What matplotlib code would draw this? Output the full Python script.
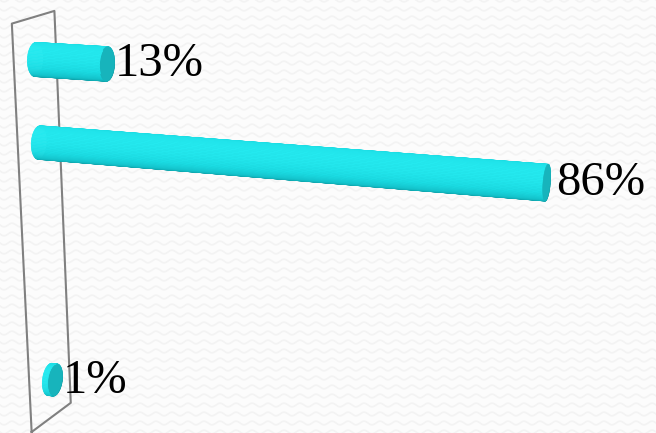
import numpy as np
import matplotlib
matplotlib.use("Agg")
import matplotlib.pyplot as plt
from matplotlib.colors import LinearSegmentedColormap
from mpl_toolkits.mplot3d.art3d import Poly3DCollection

# share of answers per category, top to bottom (empty categories are nan)
values = [13, 86, np.nan, np.nan, 1]
labels = ["13%", "86%", "", "", "1%"]

n_cat = len(values)
depth = 1.05         # wall depth, in category units
radius = 0.2         # cylinder radius, in category units
pct_per_cat = 14.0   # percent that spans one category unit
x_max = 100

fig = plt.figure(figsize=(6.56, 4.33), dpi=100)
fig.patch.set_facecolor("#fcfcfc")

# faint zigzag texture behind the chart
bg = fig.add_axes([0, 0, 1, 1])
bg.set_xlim(0, 656)
bg.set_ylim(433, 0)
bg.axis("off")
xx = np.linspace(0, 656, 1500)
for y0 in np.arange(0, 440, 9):
    bg.plot(xx, y0 + 1.8 * np.sin(2 * np.pi * xx / 16), color="#f3f3f3", lw=1.2)

ax = fig.add_axes([-0.022, -0.2575 - 0.098, 1, 1.515], projection="3d")
ax.set_proj_type("persp", focal_length=0.5)
ax.view_init(elev=16, azim=-71, roll=0)
ax.set_xlim(0, x_max)
ax.set_ylim(0, depth)
ax.set_zlim(0, n_cat)
ax.set_box_aspect((x_max / pct_per_cat, depth, n_cat), zoom=1.135)
ax.set_axis_off()
ax.patch.set_alpha(0)
ax.computed_zorder = False

# outline of the side wall at value 0
wx = [0, 0, 0, 0, 0]
wy = [0, depth, depth, 0, 0]
wz = [0, 0, n_cat, n_cat, 0]
ax.plot(wx, wy, wz, color="#808080", lw=1.5, zorder=1)

cmap = LinearSegmentedColormap.from_list(
    "cyl", ["#06727a", "#0c9ea6", "#14c4cc", "#1bdce3", "#24e9ef"])
light = np.array([-0.75, 0.66])
light = light / np.linalg.norm(light)
theta = np.linspace(0, 2 * np.pi, 73)

for i, v in enumerate(values):
    if np.isnan(v):
        continue
    zc = n_cat - i - 0.5
    yc = depth / 2
    polys, cols = [], []
    for t0, t1 in zip(theta[:-1], theta[1:]):
        tm = (t0 + t1) / 2
        y0, z0 = yc + radius * np.cos(t0), zc + radius * np.sin(t0)
        y1, z1 = yc + radius * np.cos(t1), zc + radius * np.sin(t1)
        polys.append([(0, y0, z0), (v, y0, z0), (v, y1, z1), (0, y1, z1)])
        shade = np.cos(tm) * light[0] + np.sin(tm) * light[1]
        cols.append(cmap(np.clip((shade + 1) / 2, 0, 1)))
    cap = [(v, yc + radius * np.cos(t), zc + radius * np.sin(t)) for t in theta]
    polys.append(cap)
    cols.append("#17b4bc")
    body = Poly3DCollection(polys, facecolors=cols, edgecolors=cols,
                            linewidths=0.5, zorder=2)
    ax.add_collection3d(body)
    ax.text(v + 1.4, yc, zc, labels[i], fontsize=35, family="Liberation Serif",
            ha="left", va="center", color="black", zorder=3)

fig.savefig("out.png", dpi=100, facecolor=fig.get_facecolor())
